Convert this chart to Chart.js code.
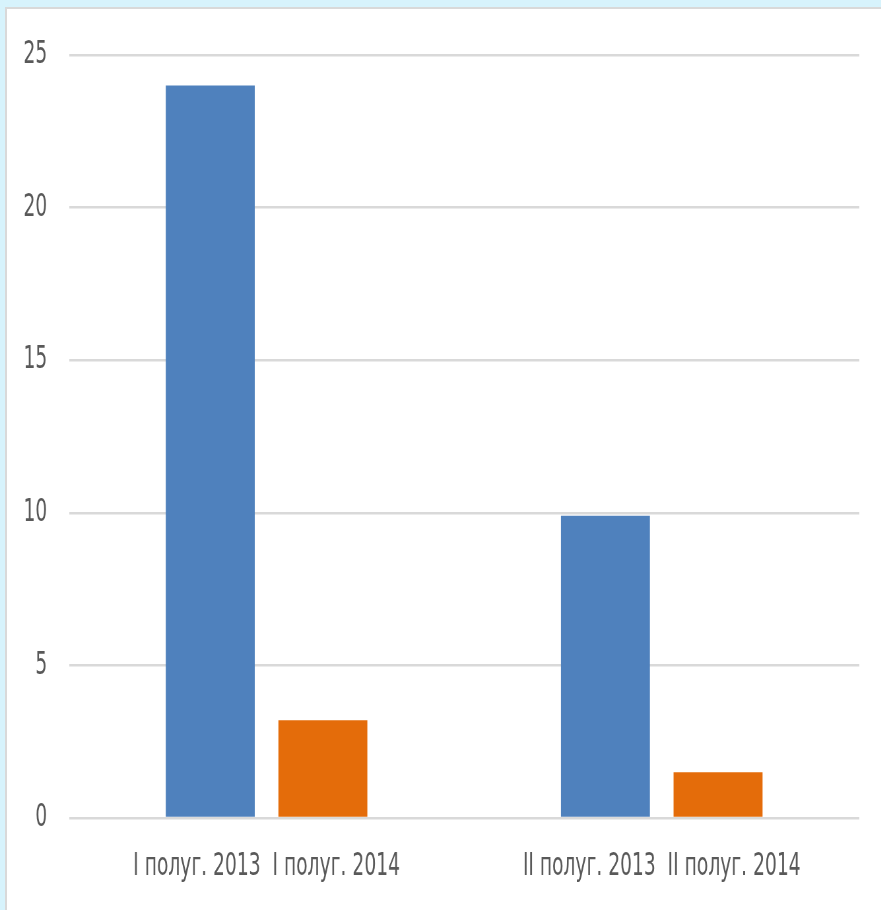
<!DOCTYPE html>
<html>
<head>
<meta charset="utf-8">
<script src="https://cdn.jsdelivr.net/npm/chart.js@4"></script>
<style>
    html, body { margin: 0; padding: 0; }
    body { width: 881px; height: 910px; background: #d7f3fc; position: relative; overflow: hidden; }
    #panel { position: absolute; left: 5px; top: 7px; width: 880px; height: 910px; background: #ffffff;
             border-top: 2px solid #d9d9d9; border-left: 2px solid #d9d9d9; }
    /* the source picture is squeezed sideways, so the chart is drawn wide and narrowed */
    #wrap { position: absolute; left: 0; top: 0; width: 1335px; height: 910px;
            transform: scaleX(0.66); transform-origin: 0 0; }
</style>
</head>
<body>
<div id="panel"></div>
<div id="wrap"><canvas id="canvas"></canvas></div>
<script>
// categories and values
var categories = ["I полуг. 2013  I полуг. 2014", "II полуг. 2013  II полуг. 2014"];
var values2013 = [24, 9.9];
var values2014 = [3.2, 1.5];
var yTicks = [0, 5, 10, 15, 20, 25];

var fontFamily = "'DejaVu Sans Condensed', 'Liberation Sans', sans-serif";
var textColor = '#595959';
var gridColor = '#d9d9d9';

var ctx = document.getElementById('canvas').getContext('2d');
var chart = new Chart(ctx, {
    type: 'bar',
    data: {
        labels: categories,
        datasets: [
            {
                label: '2013',
                data: values2013,
                backgroundColor: '#4f81bd',
                categoryPercentage: 0.57,
                barPercentage: 0.79
            },
            {
                label: '2014',
                data: values2014,
                backgroundColor: '#e46c0a',
                categoryPercentage: 0.57,
                barPercentage: 0.79
            }
        ]
    },
    options: {
        responsive: true,
        maintainAspectRatio: false,
        animation: false,
        layout: {
            padding: { left: 0, right: 33, top: 55, bottom: 22 }
        },
        plugins: {
            legend: { display: false },
            tooltip: { enabled: false }
        },
        scales: {
            x: {
                grid: { display: false, drawTicks: false },
                border: { display: false },
                ticks: {
                    color: textColor,
                    padding: 30,
                    maxRotation: 0,
                    autoSkip: false,
                    font: { family: fontFamily, size: 31.5 }
                },
                afterFit: function(scale){
                    scale.height = 70;
                }
            },
            y: {
                min: 0,
                max: 25,
                afterBuildTicks: function(scale){
                    scale.ticks = yTicks.map(function(v){ return { value: v }; });
                },
                grid: { color: gridColor, lineWidth: 2.5, drawTicks: false },
                border: { display: false },
                ticks: {
                    color: textColor,
                    padding: 33,
                    font: { family: fontFamily, size: 31.5 }
                },
                afterFit: function(scale){
                    scale.width = 104.5;
                }
            }
        }
    }
});
</script>
</body>
</html>
